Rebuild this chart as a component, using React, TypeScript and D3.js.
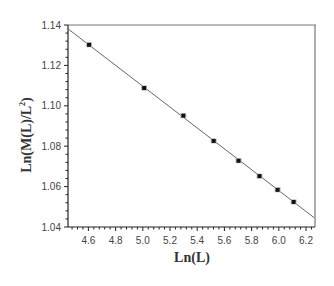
import React from "react";
import * as d3 from "d3";

// ln(L) vs ln(M(L)/L^2)
const lnL = [4.605, 5.01, 5.298, 5.521, 5.704, 5.858, 5.991, 6.109];
const lnM = [1.1302, 1.1088, 1.0951, 1.0826, 1.0728, 1.0652, 1.0584, 1.0524];
// fitted line endpoints
const fitX = [4.45, 6.26];
const fitY = [1.1381, 1.0446];
const xTicks = [4.6, 4.8, 5.0, 5.2, 5.4, 5.6, 5.8, 6.0, 6.2];
const yTicks = [1.04, 1.06, 1.08, 1.1, 1.12, 1.14];

export default function App() {
  const width = 334;
  const height = 286;
  const margin = { top: 25, right: 19, bottom: 59, left: 68 };

  const x = d3.scaleLinear().domain([4.45, 6.266]).range([margin.left, width - margin.right]);
  const y = d3.scaleLinear().domain([1.04, 1.14]).range([height - margin.bottom, margin.top]);

  const xMinor = d3.range(4.48, 6.27, 0.04).filter((v) => Math.abs(Math.round(v * 5) - v * 5) > 0.01);
  const yMinor = d3.range(1.044, 1.14, 0.004).filter((v) => Math.abs(Math.round(v * 50) - v * 50) > 0.01);

  const line = d3
    .line<number>()
    .x((d, i) => x(fitX[i]))
    .y((d, i) => y(fitY[i]));

  const x0 = margin.left;
  const x1 = width - margin.right;
  const y0 = height - margin.bottom;
  const y1 = margin.top;

  return (
    <svg width={width} height={height} style={{ position: "absolute", left: 0, top: 0 }}>
      <rect width={width} height={height} fill="#fff" />
      {/* frame */}
      <line x1={x0} x2={x1 + 1} y1={y1} y2={y1} stroke="#bbb" strokeWidth={2} />
      <line x1={x1} x2={x1} y1={y1} y2={y0} stroke="#777" strokeWidth={1.2} />
      <line x1={x0} x2={x1} y1={y0} y2={y0} stroke="#222" strokeWidth={1.2} />
      <line x1={x0} x2={x0} y1={y1} y2={y0} stroke="#222" strokeWidth={1.2} />

      {xTicks.map((t) => (
        <g key={t}>
          <line x1={x(t)} x2={x(t)} y1={y0} y2={y0 + 4} stroke="#222" />
          <text
            x={x(t)}
            y={y0 + 17}
            textAnchor="middle"
            fontFamily="Liberation Sans, Arial, sans-serif"
            fontSize={10}
            fill="#444"
          >
            {t.toFixed(1)}
          </text>
        </g>
      ))}
      {xMinor.map((t) => (
        <line key={t} x1={x(t)} x2={x(t)} y1={y0} y2={y0 + 2.5} stroke="#222" />
      ))}
      {yTicks.map((t) => (
        <g key={t}>
          <line x1={x0 - 4} x2={x0} y1={y(t)} y2={y(t)} stroke="#222" />
          <text
            x={x0 - 7}
            y={y(t) + 3.5}
            textAnchor="end"
            fontFamily="Liberation Sans, Arial, sans-serif"
            fontSize={10}
            fill="#444"
          >
            {t.toFixed(2)}
          </text>
        </g>
      ))}
      {yMinor.map((t) => (
        <line key={t} x1={x0 - 2.5} x2={x0} y1={y(t)} y2={y(t)} stroke="#222" />
      ))}

      <path d={line(fitX) || ""} fill="none" stroke="#666" strokeWidth={1} />

      {lnL.map((v, i) => (
        <g key={i}>
          <rect x={x(v) - 3} y={y(lnM[i]) - 2.5} width={6} height={5} fill="#bbb" />
          <rect x={x(v) - 2} y={y(lnM[i]) - 2} width={4} height={4} fill="#111" />
        </g>
      ))}

      <text
        x={192}
        y={262}
        textAnchor="middle"
        fontFamily="Liberation Serif, Times New Roman, serif"
        fontWeight="bold"
        fontSize={14}
        fill="#333"
      >
        Ln(L)
      </text>
      <text
        transform="translate(31, 135) rotate(-90)"
        textAnchor="middle"
        fontFamily="Liberation Serif, Times New Roman, serif"
        fontWeight="bold"
        fontSize={14}
        fill="#333"
      >
        Ln(M(L)/L
        <tspan fontSize={8} dy={-6}>
          2
        </tspan>
        <tspan dy={6}>)</tspan>
      </text>
    </svg>
  );
}
